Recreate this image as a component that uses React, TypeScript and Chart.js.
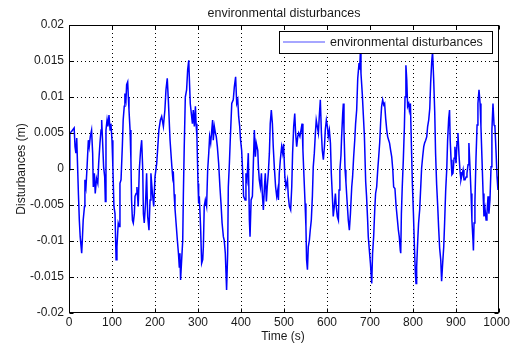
import { useEffect, useRef } from "react";
import { Chart, registerables } from "chart.js";

Chart.register(...registerables);

const chartTitle = "environmental disturbances";
const seriesName = "environmental disturbances";
const xAxisTitle = "Time (s)";
const yAxisTitle = "Disturbances (m)";

const xTickValues = [0, 100, 200, 300, 400, 500, 600, 700, 800, 900, 1000];
const xTickLabels = ["0", "100", "200", "300", "400", "500", "600", "700", "800", "900", "1000"];
const yTickValues = [-0.02, -0.015, -0.01, -0.005, 0, 0.005, 0.01, 0.015, 0.02];
const yTickLabels = ["-0.02", "-0.015", "-0.01", "-0.005", "0", "0.005", "0.01", "0.015", "0.02"];

// time (s)
const timeS = [
  0, 2, 6, 12, 14, 16, 18, 19.5, 22, 24,
  26, 29.5, 31, 33, 36, 37, 39.5, 42, 45, 47,
  49.5, 52.5, 55, 56.5, 59, 61, 64, 67, 69, 72,
  74.5, 76, 78, 80.5, 83, 84.5, 86, 88.5, 90.5, 93,
  95.5, 97.5, 100, 102, 104.5, 107, 109.5, 111.5, 114.5, 117,
  118.5, 121, 124, 126, 128.5, 130, 132.5, 134, 136.5, 138,
  139.5, 142, 144, 145.5, 147.5, 149.5, 152, 153.5, 156, 158,
  161, 163.5, 166.5, 169, 171.5, 173, 175, 178, 180.5, 183,
  186, 188.5, 190.5, 194, 197, 200, 204, 206, 209, 212.5,
  215.5, 219.5, 223, 225.5, 228.5, 231, 235, 239, 241, 242.5,
  244.5, 246.5, 249, 252, 254.5, 256.5, 258, 259.5, 262, 264.5,
  266, 268, 270.5, 273.5, 276, 278.5, 280, 282, 284.5, 287,
  289, 291.5, 294, 295.5, 297.5, 300, 301.5, 303, 306, 308.5,
  311, 312.5, 314.5, 317, 320, 322.5, 325, 327, 329.5, 332,
  334, 335.5, 338, 340.5, 342.5, 345, 348, 351, 353.5, 356,
  359, 361, 363.5, 366.5, 369, 370.5, 373, 375, 378.5, 382,
  384.5, 387.5, 390, 392.5, 394.5, 397, 399, 401.5, 404, 406,
  409.5, 411.5, 414, 417, 419.5, 421, 423.5, 426.5, 428.5, 431,
  433.5, 435.5, 439, 440.5, 442.5, 445, 447.5, 449.5, 452, 454.5,
  456.5, 459, 461, 463.5, 466, 468, 470.5, 473, 475, 477.5,
  480.5, 483, 485.5, 487, 489, 491.5, 494.5, 497, 499, 502,
  504.5, 508, 510, 512.5, 515.5, 518, 520, 522.5, 525, 527,
  529.5, 532, 534, 537, 539.5, 542, 544, 546.5, 549, 551,
  552.5, 554.5, 556.5, 559, 561, 563.5, 566, 568, 570.5, 573,
  575, 577.5, 580, 582, 584.5, 587, 589, 591.5, 594, 596,
  598.5, 601, 603, 605.5, 608, 610, 612.5, 614.5, 617, 619.5,
  621.5, 624, 626.5, 628, 630, 632.5, 634, 636.5, 638, 639.5,
  642, 644, 646.5, 649.5, 652, 654.5, 657.5, 659.5, 662, 664.5,
  666.5, 669, 671.5, 674.5, 676, 677.5, 679, 682, 684.5, 687,
  690, 692, 694.5, 696, 698.5, 701, 704, 706, 708.5, 711,
  713, 715.5, 718, 720, 722.5, 725, 727, 729.5, 732, 734,
  736.5, 739, 741, 743.5, 745.5, 748, 750.5, 753, 755, 758,
  760.5, 763.5, 766, 768, 770.5, 771.5, 773, 775, 777.5, 780,
  781.5, 783.5, 785.5, 787.5, 790, 791.5, 794, 796, 798.5, 801,
  803, 805.5, 807, 808.5, 811, 813, 815.5, 818, 820, 822.5,
  825, 827, 829.5, 832, 834, 836.5, 839, 841, 843.5, 845.5,
  848, 850.5, 852.5, 855, 857.5, 859.5, 862, 864.5, 866.5, 869,
  871.5, 873.5, 876, 878.5, 880.5, 883, 885, 886.5, 888.5, 890.5,
  893, 895.5, 897.5, 900, 902.5, 904.5, 907, 909.5, 911.5, 914,
  916.5, 918.5, 921, 923.5, 925.5, 928, 930, 932.5, 935, 937,
  939.5, 940.5, 942, 944, 946.5, 949, 951, 953.5, 956, 958,
  960.5, 963, 965, 967.5, 970, 972, 974.5, 976.5, 979, 981.5,
  983.5, 986, 988.5, 990.5, 993, 995.5, 997.5, 999, 1000,
];

// disturbance (m)
const disturbanceM = [
  -0.0001, 0.0050, 0.0052, 0.0057, 0.0031, 0.0022, 0.0043, 0.0013, -0.0036, -0.0071,
  -0.0094, -0.0117, -0.0099, -0.0071, -0.0052, -0.0015, -0.0025, 0.0003, 0.0040, 0.0031,
  0.0045, 0.0054, 0.0022, -0.0025, -0.0006, -0.0034, -0.0013, -0.0020, 0.0008, 0.0036,
  0.0054, 0.0068, 0.0040, 0.0003, -0.0011, -0.0045, 0.0054, 0.0068, 0.0059, 0.0075,
  0.0054, 0.0063, 0.0040, 0.0003, -0.0052, -0.0062, -0.0126, -0.0108, -0.0075, -0.0080,
  -0.0020, -0.0015, 0.0031, 0.0068, 0.0087, 0.0105, 0.0096, 0.0117, 0.0121, 0.0100,
  0.0082, 0.0054, 0.0013, -0.0043, -0.0071, -0.0075, -0.0062, -0.0038, -0.0034, -0.0025,
  -0.0052, -0.0001, 0.0026, 0.0040, -0.0001, -0.0062, -0.0075, -0.0048, -0.0006, -0.0066,
  -0.0085, -0.0043, -0.0006, -0.0034, -0.0052, -0.0011, 0.0008, 0.0026, 0.0054, 0.0068,
  0.0073, 0.0059, 0.0082, 0.0110, 0.0126, 0.0096, 0.0040, 0.0005, -0.0010, -0.0003,
  -0.0035, -0.0055, -0.0075, -0.0099, -0.0117, -0.0136, -0.0117, -0.0154, -0.0126, -0.0099,
  -0.0034, 0.0031, 0.0100, 0.0110, 0.0138, 0.0151, 0.0124, 0.0091, 0.0077, 0.0063,
  0.0082, 0.0059, 0.0087, 0.0063, 0.0045, -0.0020, -0.0048, -0.0038, -0.0080, -0.0131,
  -0.0126, -0.0108, -0.0052, -0.0043, -0.0052, -0.0001, 0.0022, 0.0045, 0.0036, 0.0054,
  0.0068, 0.0040, 0.0059, 0.0050, 0.0045, 0.0031, 0.0008, -0.0025, -0.0048, -0.0075,
  -0.0094, -0.0099, -0.0117, -0.0168, -0.0117, -0.0025, 0.0008, 0.0040, 0.0091, 0.0096,
  0.0114, 0.0128, 0.0091, 0.0096, 0.0073, 0.0059, 0.0040, 0.0026, -0.0006, -0.0038,
  -0.0043, -0.0006, -0.0015, 0.0022, -0.0071, -0.0094, -0.0043, -0.0038, 0.0003, 0.0054,
  0.0017, 0.0036, 0.0026, 0.0003, -0.0015, -0.0025, -0.0006, -0.0034, -0.0057, -0.0025,
  -0.0006, -0.0045, -0.0025, -0.0006, 0.0022, 0.0063, 0.0082, 0.0063, 0.0031, 0.0003,
  -0.0025, -0.0038, -0.0029, -0.0043, -0.0006, 0.0013, 0.0031, 0.0022, 0.0035, -0.0011,
  -0.0025, -0.0015, -0.0038, -0.0052, -0.0057, -0.0025, 0.0022, 0.0059, 0.0077, 0.0050,
  0.0031, 0.0045, 0.0050, 0.0045, 0.0054, 0.0063, 0.0026, -0.0011, -0.0048, -0.0080,
  -0.0126, -0.0140, -0.0108, -0.0099, -0.0085, -0.0071, -0.0038, 0.0003, 0.0022, 0.0050,
  0.0068, 0.0059, 0.0050, 0.0073, 0.0096, 0.0050, 0.0026, 0.0013, 0.0031, 0.0054,
  0.0068, 0.0059, 0.0045, 0.0054, 0.0036, -0.0006, -0.0038, -0.0066, -0.0052, -0.0034,
  -0.0052, -0.0066, -0.0071, -0.0029, -0.0001, 0.0019, 0.0045, 0.0077, 0.0091, 0.0054,
  -0.0001, -0.0018, -0.0043, -0.0071, -0.0085, -0.0062, -0.0025, -0.0011, 0.0017, 0.0040,
  0.0063, 0.0082, 0.0126, 0.0147, 0.0138, 0.0161, 0.0133, 0.0105, 0.0075, 0.0045,
  -0.0018, -0.0038, -0.0071, -0.0094, -0.0113, -0.0131, -0.0159, -0.0117, -0.0094, -0.0057,
  -0.0034, -0.0025, -0.0001, 0.0015, 0.0036, 0.0068, 0.0087, 0.0096, 0.0089, 0.0091,
  0.0070, 0.0054, 0.0045, 0.0040, 0.0036, 0.0026, 0.0017, -0.0001, -0.0025, -0.0027,
  -0.0050, -0.0069, -0.0085, -0.0094, -0.0113, -0.0117, -0.0062, -0.0025, 0.0013, 0.0059,
  0.0100, 0.0144, 0.0124, 0.0087, 0.0091, 0.0082, 0.0091, 0.0040, -0.0020, -0.0062,
  -0.0103, -0.0145, -0.0159, -0.0136, -0.0099, -0.0075, -0.0057, -0.0025, 0.0001, 0.0017,
  0.0031, 0.0036, 0.0040, 0.0045, 0.0059, 0.0068, 0.0084, 0.0119, 0.0149, 0.0163,
  0.0126, 0.0080, 0.0022, -0.0022, -0.0052, -0.0080, -0.0110, -0.0126, -0.0156, -0.0131,
  -0.0108, -0.0075, -0.0030, 0.0000, 0.0040, 0.0070, 0.0082, 0.0040, 0.0013, -0.0008,
  -0.0006, 0.0015, 0.0031, 0.0008, 0.0038, 0.0050, 0.0019, -0.0004, -0.0015, -0.0008,
  -0.0001, -0.0015, -0.0015, -0.0011, -0.0006, 0.0006, 0.0036, 0.0003, -0.0034, -0.0071,
  -0.0099, -0.0113, -0.0075, -0.0045, 0.0015, 0.0061, 0.0091, 0.0110, 0.0091, 0.0059,
  0.0013, -0.0034, -0.0066, -0.0055, -0.0071, -0.0062, -0.0038, -0.0062, -0.0043, 0.0003,
  0.0054, 0.0091, 0.0061, 0.0059, 0.0026, -0.0011, -0.0029, -0.0020, -0.0025,
];

const FONT = '"Liberation Sans", Arial, Helvetica, sans-serif';
const LINE_COLOR = "#0000ff";
const TEXT_COLOR = "#1a1a1a";

export default function App() {
  const ref = useRef<HTMLCanvasElement>(null);

  useEffect(() => {
    const canvas = ref.current;
    if (!canvas) return;

    const framePlugin = {
      id: "matlabFrame",
      beforeDatasetsDraw(chart: any) {
        const { ctx, chartArea: a, scales } = chart;
        ctx.save();
        ctx.strokeStyle = "#000";
        ctx.lineWidth = 1;
        ctx.setLineDash([1, 3]);
        for (const v of xTickValues) {
          const px = Math.round(scales.x.getPixelForValue(v)) + 0.5;
          if (px <= a.left + 1 || px >= a.right - 1) continue;
          ctx.beginPath();
          ctx.moveTo(px, a.top);
          ctx.lineTo(px, a.bottom);
          ctx.stroke();
        }
        for (const v of yTickValues) {
          const py = Math.round(scales.y.getPixelForValue(v)) + 0.5;
          if (py <= a.top + 1 || py >= a.bottom - 1) continue;
          ctx.beginPath();
          ctx.moveTo(a.left, py);
          ctx.lineTo(a.right, py);
          ctx.stroke();
        }
        ctx.restore();
      },
      afterDatasetsDraw(chart: any) {
        const { ctx, chartArea: a, scales } = chart;
        ctx.save();
        ctx.setLineDash([]);
        ctx.strokeStyle = "#000";
        ctx.lineWidth = 1;
        const L = Math.round(a.left) + 0.5;
        const R = Math.round(a.right) - 0.5;
        const T = Math.round(a.top) + 0.5;
        const B = Math.round(a.bottom) - 0.5;
        ctx.strokeRect(L, T, R - L, B - T);
        const tl = 4;
        ctx.beginPath();
        for (const v of xTickValues) {
          const px = Math.round(scales.x.getPixelForValue(v)) + 0.5;
          ctx.moveTo(px, T);
          ctx.lineTo(px, T + tl);
          ctx.moveTo(px, B);
          ctx.lineTo(px, B - tl);
        }
        for (const v of yTickValues) {
          const py = Math.round(scales.y.getPixelForValue(v)) + 0.5;
          ctx.moveTo(L, py);
          ctx.lineTo(L + tl, py);
          ctx.moveTo(R, py);
          ctx.lineTo(R - tl, py);
        }
        ctx.stroke();

        // x tick labels (kept inside the canvas at the right edge)
        ctx.fillStyle = TEXT_COLOR;
        ctx.font = `12px ${FONT}`;
        ctx.textAlign = "center";
        ctx.textBaseline = "middle";
        const cw = chart.width;
        xTickValues.forEach((v, i) => {
          const label = xTickLabels[i];
          const w = ctx.measureText(label).width;
          const px = Math.min(scales.x.getPixelForValue(v), cw - 1 - w / 2);
          ctx.fillText(label, px, 323);
        });

        // legend box
        const lx = 279.5, ly = 31.5, lw = 213, lh = 22;
        ctx.fillStyle = "#fff";
        ctx.fillRect(lx, ly, lw, lh);
        ctx.strokeStyle = "#000";
        ctx.strokeRect(lx, ly, lw, lh);
        ctx.strokeStyle = LINE_COLOR;
        ctx.lineWidth = 0.7;
        ctx.beginPath();
        ctx.moveTo(283, 42);
        ctx.lineTo(325, 42);
        ctx.stroke();
        ctx.fillStyle = TEXT_COLOR;
        ctx.font = `12.5px ${FONT}`;
        ctx.textAlign = "left";
        ctx.fillText(seriesName, 330, 42.5);

        // title
        const cx = (a.left + a.right) / 2;
        ctx.textAlign = "center";
        ctx.fillText(chartTitle, cx, 14);
        // x axis title
        ctx.font = `12px ${FONT}`;
        ctx.fillText(xAxisTitle, cx - 1, 337);
        // y axis title
        ctx.translate(22, (a.top + a.bottom) / 2);
        ctx.rotate(-Math.PI / 2);
        ctx.fillText(yAxisTitle, 0, 0);
        ctx.restore();
      },
    };

    const chart = new Chart(canvas, {
      type: "line",
      data: {
        datasets: [
          {
            label: seriesName,
            data: timeS.map((t, i) => ({ x: t, y: disturbanceM[i] })),
            borderColor: LINE_COLOR,
            backgroundColor: LINE_COLOR,
            borderWidth: 1.5,
            pointRadius: 0,
            tension: 0,
            fill: false,
          },
        ],
      },
      options: {
        responsive: false,
        animation: false,
        layout: { padding: { left: 0, right: 12, top: 25, bottom: 0 } },
        plugins: {
          legend: { display: false },
          title: { display: false },
          tooltip: { enabled: false },
        },
        events: [],
        scales: {
          x: {
            type: "linear",
            min: 0,
            max: 1000,
            grid: { display: false, drawTicks: false },
            border: { display: false },
            afterBuildTicks: (scale: any) => {
              scale.ticks = xTickValues.map((v) => ({ value: v }));
            },
            afterFit: (scale: any) => {
              scale.height = 32;
              scale.paddingLeft = 0;
              scale.paddingRight = 0;
            },
            ticks: { display: false },
          },
          y: {
            type: "linear",
            min: -0.02,
            max: 0.02,
            grid: { display: false, drawTicks: false },
            border: { display: false },
            afterBuildTicks: (scale: any) => {
              scale.ticks = yTickValues.map((v) => ({ value: v }));
            },
            afterFit: (scale: any) => {
              scale.width = 69;
              scale.paddingTop = 0;
              scale.paddingBottom = 0;
            },
            ticks: {
              autoSkip: false,
              padding: 5,
              color: TEXT_COLOR,
              font: { family: FONT, size: 12 },
              callback: (_v: any, i: number) => yTickLabels[i],
            },
          },
        },
      },
      plugins: [framePlugin],
    } as any);

    return () => chart.destroy();
  }, []);

  return (
    <div style={{ position: "absolute", left: 0, top: 0, width: 511, height: 345, background: "#fff" }}>
      <canvas ref={ref} width={511} height={345} style={{ display: "block" }} />
    </div>
  );
}
